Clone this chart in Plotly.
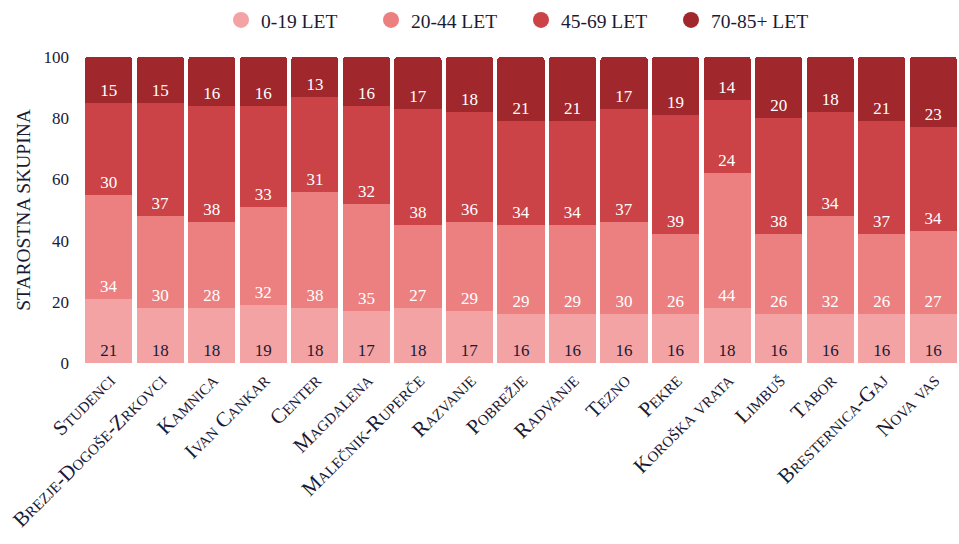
import plotly.graph_objects as go

categories = ["Studenci", "Brezje-Dogoše-Zrkovci", "Kamnica", "Ivan Cankar", "Center",
              "Magdalena", "Malečnik-Ruperče", "Razvanje", "Pobrežje", "Radvanje",
              "Tezno", "Pekre", "Koroška vrata", "Limbuš", "Tabor", "Bresternica-Gaj", "Nova vas"]

age_0_19 = [21, 18, 18, 19, 18, 17, 18, 17, 16, 16, 16, 16, 18, 16, 16, 16, 16]
age_20_44 = [34, 30, 28, 32, 38, 35, 27, 29, 29, 29, 30, 26, 44, 26, 32, 26, 27]
age_45_69 = [30, 37, 38, 33, 31, 32, 38, 36, 34, 34, 37, 39, 24, 38, 34, 37, 34]
age_70_85 = [15, 15, 16, 16, 13, 16, 17, 18, 21, 21, 17, 19, 14, 20, 18, 21, 23]

series_names = ["0-19 LET", "20-44 LET", "45-69 LET", "70-85+ LET"]
series_values = [age_0_19, age_20_44, age_45_69, age_70_85]
colors = ["#F4A3A5", "#EC7F80", "#CB4347", "#A0282C"]
text_colors = ["#1c1a33", "#ffffff", "#ffffff", "#ffffff"]

FONT = "Liberation Serif"
DARK = "#1c1a33"

fig = go.Figure()
for name, vals, col, tcol in zip(series_names, series_values, colors, text_colors):
    fig.add_trace(go.Bar(
        x=categories, y=vals, name=name,
        marker=dict(color=col, line=dict(width=0)),
        text=[str(v) for v in vals],
        textposition="inside", insidetextanchor="start",
        textfont=dict(family=FONT, size=17, color=tcol),
        hoverinfo="skip", showlegend=False,
    ))

# legend entries with round markers
for name, col in zip(series_names, colors):
    fig.add_trace(go.Scatter(
        x=[None], y=[None], mode="markers", name=name,
        marker=dict(color=col, size=16, symbol="circle"),
        showlegend=True, hoverinfo="skip",
    ))

fig.update_layout(
    barmode="stack",
    bargap=0.085,
    barcornerradius=3,
    width=959, height=544,
    margin=dict(l=83, r=0, t=57, b=181),
    paper_bgcolor="white", plot_bgcolor="white",
    font=dict(family=FONT, color=DARK),
    legend=dict(orientation="h", x=0.5, xanchor="center", y=1.12, yanchor="middle",
                font=dict(family=FONT, size=19.5, color=DARK),
                entrywidth=105, entrywidthmode="pixels",
                itemsizing="trace", traceorder="normal"),
    showlegend=True,
)
fig.update_yaxes(range=[0, 100], tickvals=[0, 20, 40, 60, 80, 100], showgrid=False,
                 zeroline=False, showline=False, ticks="", ticklabelstandoff=13,
                 tickfont=dict(family=FONT, size=17, color=DARK),
                 title=dict(text="STAROSTNA SKUPINA", font=dict(family=FONT, size=19.5, color=DARK), standoff=7),
                 automargin=False)
fig.update_xaxes(tickangle=-45, showgrid=False, showline=False, ticks="",
                 tickfont=dict(family=FONT, size=21, color=DARK, variant="small-caps"),
                 automargin=False)

fig.write_html("out.html", config={"displayModeBar": False},
               post_script="document.body.style.margin='0';")
